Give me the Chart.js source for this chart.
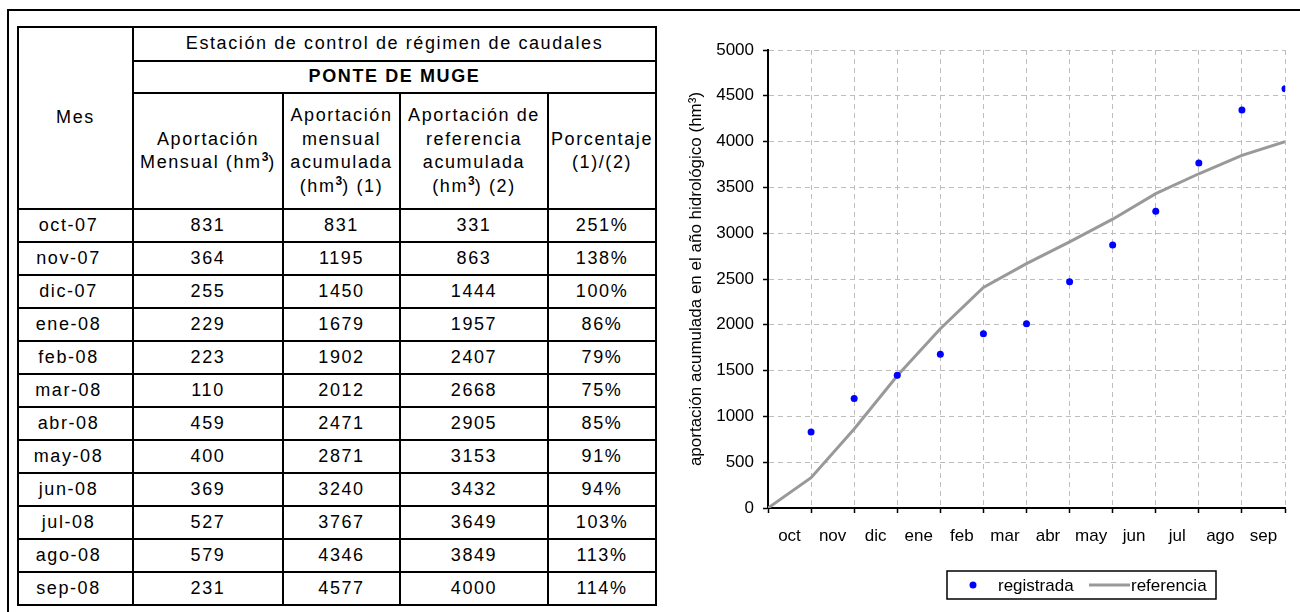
<!DOCTYPE html>
<html lang="es">
<head>
<meta charset="utf-8">
<title>Ponte de Muge</title>
<script src="https://cdn.jsdelivr.net/npm/chart.js@4.4.1/dist/chart.umd.min.js"></script>
<style>
  html, body { margin: 0; padding: 0; background: #fff; }
  #page { position: relative; width: 1300px; height: 612px; overflow: hidden; font-family: Arial, "Liberation Sans", sans-serif; }
  #frame { position: absolute; left: 7px; top: 9px; width: 1300px; height: 700px; border-top: 2px solid #000; border-left: 2px solid #000; }
  table.datos { position: absolute; left: 17px; top: 26px; border-collapse: collapse; table-layout: fixed; width: 638px;
    font-family: Arial, "Liberation Sans", sans-serif; font-size: 18px; letter-spacing: 1.6px; color: #000; }
  table.datos td, table.datos th { border: 2px solid #000; text-align: center; vertical-align: middle; padding: 0; font-weight: normal; line-height: 23.5px; white-space: nowrap; overflow: hidden; }
  table.datos th.bold { font-weight: bold; }
  table.datos sup { font-size: 12px; font-weight: bold; line-height: 0; letter-spacing: 0; }
  table.datos tr.h1 { height: 34px; }
  table.datos tr.h2 { height: 32px; }
  table.datos tr.h3 { height: 116px; }
  table.datos tbody tr { height: 33px; }
  table.datos td.mes { padding-right: 14px; }
  #chartBox { position: absolute; left: 686px; top: 20px; width: 614px; height: 592px; }
</style>
</head>
<body>
<div id="page">
  <div id="frame"></div>
  <table class="datos" id="tabla">
    <colgroup>
      <col style="width:115px"><col style="width:150px"><col style="width:117px"><col style="width:148px"><col style="width:108px">
    </colgroup>
    <thead>
      <tr class="h1"><th rowspan="3" id="thMes">Mes</th><th colspan="4" id="thEst"></th></tr>
      <tr class="h2"><th colspan="4" class="bold" id="thEstacion"></th></tr>
      <tr class="h3">
        <th>Aportación<br>Mensual (hm<sup>3</sup>)</th>
        <th>Aportación<br>mensual<br>acumulada<br>(hm<sup>3</sup>) (1)</th>
        <th>Aportación de<br>referencia<br>acumulada<br>(hm<sup>3</sup>) (2)</th>
        <th>Porcentaje<br>(1)/(2)</th>
      </tr>
    </thead>
    <tbody id="cuerpo"></tbody>
  </table>
  <div id="chartBox"><canvas id="grafico"></canvas></div>
</div>
<script>
// ---- Data ----
const meses = ['oct-07','nov-07','dic-07','ene-08','feb-08','mar-08','abr-08','may-08','jun-08','jul-08','ago-08','sep-08'];
const ejeMeses = ['oct','nov','dic','ene','feb','mar','abr','may','jun','jul','ago','sep'];
const aportacionMensual = [831, 364, 255, 229, 223, 110, 459, 400, 369, 527, 579, 231];
const aportacionAcumulada = [831, 1195, 1450, 1679, 1902, 2012, 2471, 2871, 3240, 3767, 4346, 4577];
const referenciaAcumulada = [331, 863, 1444, 1957, 2407, 2668, 2905, 3153, 3432, 3649, 3849, 4000];
const porcentaje = ['251%', '138%', '100%', '86%', '79%', '75%', '85%', '91%', '94%', '103%', '113%', '114%'];
const referenciaInicio = 0;
const yTicks = { min: 0, max: 5000, step: 500 };
const tituloTabla = 'Estación de control de régimen de caudales';
const estacion = 'PONTE DE MUGE';
const tituloEjeY = 'aportación acumulada en el año hidrológico (hm³)';
const nombreSeries = ['registrada', 'referencia'];

// ---- Table ----
document.getElementById('thEst').textContent = tituloTabla;
document.getElementById('thEstacion').textContent = estacion;
const cuerpo = document.getElementById('cuerpo');
meses.forEach((m, i) => {
  const tr = document.createElement('tr');
  const cells = [m, aportacionMensual[i], aportacionAcumulada[i], referenciaAcumulada[i], porcentaje[i]];
  cells.forEach((c, j) => {
    const td = document.createElement('td');
    td.textContent = c;
    if (j === 0) td.className = 'mes';
    tr.appendChild(td);
  });
  cuerpo.appendChild(tr);
});

// ---- Chart ----
const FONT = { family: 'Arial, "Liberation Sans", sans-serif', size: 17 };
const ptsRegistrada = aportacionAcumulada.map((v, i) => ({ x: i + 1, y: v }));
const ptsReferencia = [{ x: 0, y: referenciaInicio }].concat(referenciaAcumulada.map((v, i) => ({ x: i + 1, y: v })));

const legendPlugin = {
  id: 'leyendaCaja',
  afterDraw(chart) {
    const ctx = chart.ctx, ca = chart.chartArea;
    const left = ca.left + 179, top = ca.bottom + 63, w = 269, h = 28;
    const cy = top + h / 2;
    ctx.save();
    ctx.strokeStyle = '#000'; ctx.lineWidth = 1.5;
    ctx.strokeRect(left, top, w, h);
    const d0 = chart.data.datasets[0], d1 = chart.data.datasets[1];
    ctx.fillStyle = d0.backgroundColor;
    ctx.beginPath(); ctx.arc(left + 26, cy, 3.5, 0, Math.PI * 2); ctx.fill();
    ctx.font = FONT.size + 'px ' + FONT.family;
    ctx.fillStyle = '#000'; ctx.textBaseline = 'middle'; ctx.textAlign = 'left';
    ctx.fillText(d0.label, left + 51, cy + 1);
    ctx.strokeStyle = d1.borderColor; ctx.lineWidth = d1.borderWidth;
    ctx.beginPath(); ctx.moveTo(left + 142, cy); ctx.lineTo(left + 183, cy); ctx.stroke();
    ctx.fillStyle = '#000';
    ctx.fillText(d1.label, left + 184, cy + 1);
    ctx.restore();
  }
};

new Chart(document.getElementById('grafico'), {
  type: 'scatter',
  data: {
    datasets: [
      { label: nombreSeries[0], data: ptsRegistrada, backgroundColor: '#0000ff', borderColor: '#0000ff',
        pointRadius: 3.5, pointHoverRadius: 3.5, pointBorderWidth: 0, showLine: false, order: 1 },
      { label: nombreSeries[1], data: ptsReferencia, borderColor: '#999999', backgroundColor: '#999999',
        borderWidth: 3, pointRadius: 0, showLine: true, tension: 0, order: 2 }
    ]
  },
  options: {
    responsive: true, maintainAspectRatio: false, animation: false,
    layout: { padding: { left: 0, right: 15, top: 30, bottom: 64 } },
    plugins: { legend: { display: false }, tooltip: { enabled: false } },
    scales: {
      x: {
        type: 'linear', min: 0, max: ejeMeses.length,
        afterBuildTicks(s) { s.ticks = ejeMeses.map((_, i) => ({ value: i })).concat([{ value: ejeMeses.length }]); },
        afterFit(s) { s.height = 40; },
        ticks: { color: '#000', font: FONT, padding: 13, labelOffset: 21.5, maxRotation: 0, autoSkip: false,
          callback: (v) => ejeMeses[v] !== undefined ? ejeMeses[v] : '' },
        grid: { color: '#bdbdbd', lineWidth: 1, tickColor: '#000', tickLength: 5, tickWidth: 1.5 },
        border: { color: '#000', width: 2, dash: [5, 4] }
      },
      y: {
        min: yTicks.min, max: yTicks.max,
        afterFit(s) { s.width = 82; },
        ticks: { stepSize: yTicks.step, color: '#000', font: FONT, padding: 9, callback: (v) => String(v) },
        grid: { color: '#bdbdbd', lineWidth: 1, tickColor: '#000', tickLength: 5, tickWidth: 1.5 },
        border: { color: '#000', width: 2, dash: [5, 4] },
        title: { display: true, text: tituloEjeY, color: '#000', font: FONT, padding: 0 }
      }
    }
  },
  plugins: [legendPlugin]
});
</script>
</body>
</html>
